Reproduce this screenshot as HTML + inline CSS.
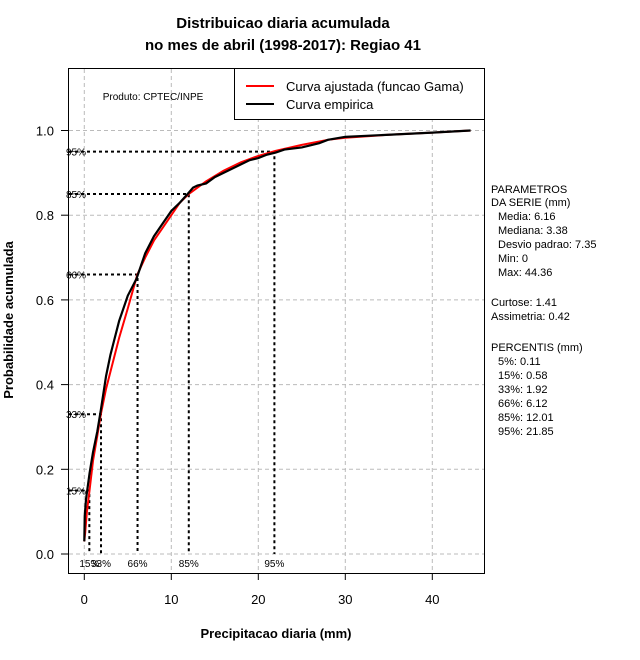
<!DOCTYPE html>
<html><head><meta charset="utf-8"><style>
body{margin:0;background:#fff;width:640px;height:660px;overflow:hidden}
svg{display:block;font-family:"Liberation Sans",sans-serif}
</style></head><body>
<svg id="c" width="640" height="660">
<text x="283" y="28" text-anchor="middle" font-size="15" font-weight="bold">Distribuicao diaria acumulada</text>
<text x="283" y="50" text-anchor="middle" font-size="15" font-weight="bold">no mes de abril (1998-2017): Regiao 41</text>
<text x="276" y="638" text-anchor="middle" font-size="13" font-weight="bold">Precipitacao diaria (mm)</text>
<text transform="translate(13,320) rotate(-90)" text-anchor="middle" font-size="13" font-weight="bold">Probabilidade acumulada</text>
<g id="grid"></g><g id="ticks"></g><g id="pct"></g><g id="series"></g>
<rect x="68.5" y="68.5" width="416" height="505" fill="none" stroke="#000"/>
<text x="153" y="100" text-anchor="middle" font-size="10">Produto: CPTEC/INPE</text>
<g>
<rect x="234.5" y="68.5" width="250" height="51" fill="#fff" stroke="#000"/>
<line x1="246" y1="86" x2="274" y2="86" stroke="#f00" stroke-width="2"/>
<text x="286" y="91" font-size="13">Curva ajustada (funcao Gama)</text>
<line x1="246" y1="104" x2="274" y2="104" stroke="#000" stroke-width="2"/>
<text x="286" y="109" font-size="13">Curva empirica</text>
</g>
<g font-size="11">
<text x="491" y="193">PARAMETROS</text><text x="491" y="206">DA SERIE (mm)</text>
<text x="498" y="220">Media: 6.16</text><text x="498" y="234">Mediana: 3.38</text>
<text x="498" y="248">Desvio padrao: 7.35</text><text x="498" y="262">Min: 0</text>
<text x="498" y="276">Max: 44.36</text>
<text x="491" y="306">Curtose: 1.41</text><text x="491" y="320">Assimetria: 0.42</text>
<text x="491" y="351">PERCENTIS (mm)</text>
<text x="498" y="365">5%: 0.11</text><text x="498" y="379">15%: 0.58</text>
<text x="498" y="393">33%: 1.92</text><text x="498" y="407">66%: 6.12</text>
<text x="498" y="421">85%: 12.01</text><text x="498" y="435">95%: 21.85</text>
</g>
</svg>
<script>
const xTicks=[0,10,20,30,40];
const yTicks=[0,0.2,0.4,0.6,0.8,1.0];
const pctLabels=["15%","33%","66%","85%","95%"];
const pctProb=[0.15,0.33,0.66,0.85,0.95];
const pctVals=[0.58,1.92,6.12,12.01,21.85];
const fitX=[0,0.1,0.3,0.6,1,1.5,1.9,2.5,3,4,5,6.1,7,8,9,10,11,12,14,16,18,20,22,25,28,30,35,40,44.4];
const fitP=[0.03,0.05,0.1,0.15,0.22,0.28,0.33,0.39,0.43,0.51,0.58,0.66,0.70,0.74,0.77,0.80,0.83,0.85,0.88,0.905,0.925,0.94,0.952,0.966,0.978,0.983,0.99,0.995,1.0];
const empX=[0,0.05,0.2,0.4,0.6,1,1.5,1.9,2.5,3,3.5,4,5,6,6.5,7,8,9,10,11,12,12.5,13,14,15,16,17,18,19,20,21,22,23,25,27,28,30,35,40,44.4];
const empP=[0.03,0.09,0.13,0.16,0.19,0.24,0.29,0.34,0.42,0.47,0.51,0.55,0.61,0.65,0.68,0.71,0.75,0.78,0.81,0.83,0.853,0.865,0.87,0.875,0.89,0.90,0.91,0.92,0.93,0.935,0.943,0.948,0.955,0.96,0.97,0.978,0.985,0.99,0.995,1.0];
const X=v=>84.3+v*8.7, Y=p=>554-p*423.5;
const NS="http://www.w3.org/2000/svg";
function mk(par,tag,at){const e=document.createElementNS(NS,tag);for(const k in at)e.setAttribute(k,at[k]);document.getElementById(par).appendChild(e);return e;}
xTicks.forEach(t=>{
 let g=mk("grid","line",{x1:X(t),x2:X(t),y1:69,y2:573,stroke:"#bbb","stroke-dasharray":"4,3"});
 
 
 let l=mk("ticks","line",{x1:X(t),x2:X(t),y1:573,y2:580,stroke:"#000"});
 
 
 let tx=mk("ticks","text",{x:X(t),y:604,"text-anchor":"middle","font-size":"13"});tx.textContent=t;
 
 
});
yTicks.forEach(t=>{
 let g=mk("grid","line",{x1:69,x2:484,y1:Y(t),y2:Y(t),stroke:"#bbb","stroke-dasharray":"4,3"});
 
 
 let l=mk("ticks","line",{x1:61,x2:68,y1:Y(t),y2:Y(t),stroke:"#000"});
 
 
 let tx=mk("ticks","text",{x:54,y:Y(t)+5,"text-anchor":"end","font-size":"13"});tx.textContent=t.toFixed(1);
 
 
});
pctVals.forEach((v,i)=>{
 let p=mk("pct","path",{d:`M69 ${Y(pctProb[i])} H${X(v)} V${Y(0)}`,fill:"none",stroke:"#000","stroke-width":2,"stroke-dasharray":"3,3"});
 
 
 let a=mk("pct","text",{x:66,y:Y(pctProb[i])+4,"font-size":"10"});a.textContent=pctLabels[i];
 
 
 let b=mk("pct","text",{x:X(v),y:567,"text-anchor":"middle","font-size":"10"});b.textContent=pctLabels[i];
 
 
});
let d1=fitX.map((x,i)=>(i?"L":"M")+X(x)+" "+Y(fitP[i])).join(" ");
let f=mk("series","path",{d:d1,fill:"none",stroke:"#f00","stroke-width":2});


let d2=empX.map((x,i)=>(i?"L":"M")+X(x)+" "+Y(empP[i])).join(" ");
let e=mk("series","path",{d:d2,fill:"none",stroke:"#000","stroke-width":2.2});


</script>
</body></html>
